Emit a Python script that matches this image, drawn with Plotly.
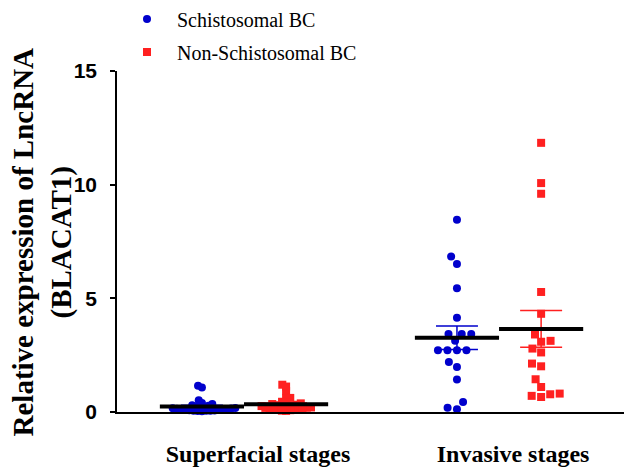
import numpy as np
import plotly.graph_objects as go

categories = ["Superfacial stages", "Invasive stages"]
series_names = ["Schistosomal BC", "Non-Schistosomal BC"]
y_title = "Relative expression of LncRNA<br>(BLACAT1)"

schisto_superficial = [1.15, 1.08, 0.52, 0.40, 0.35, 0.30, 0.28, 0.25, 0.22, 0.20,
                       0.18, 0.17, 0.15, 0.14, 0.13, 0.12, 0.11, 0.10, 0.09, 0.08,
                       0.07, 0.06, 0.05, 0.05, 0.04, 0.03]
schisto_invasive = [8.46, 6.84, 6.51, 5.44, 4.15, 3.43, 3.43, 3.43, 3.13, 2.72,
                    2.72, 2.72, 2.72, 2.20, 1.98, 1.43, 0.44, 0.19, 0.12]
nonschisto_superficial = [1.20, 1.12, 0.92, 0.62, 0.60, 0.45, 0.40, 0.38, 0.35, 0.32,
                          0.30, 0.28, 0.26, 0.25, 0.24, 0.22, 0.20, 0.19, 0.18, 0.16,
                          0.15, 0.14, 0.12, 0.10, 0.09, 0.08, 0.06, 0.05]
nonschisto_invasive = [11.84, 10.07, 9.60, 5.28, 4.32, 3.41, 3.13, 3.09, 2.79, 2.62,
                       2.13, 2.01, 1.44, 1.10, 0.78, 0.66, 0.71, 0.81]

ticks_y = [0, 5, 10, 15]

# layout constants
W, H = 624, 469
ML, MR, MT, MB = 117, 0, 71, 57
XR = [-0.498, 1.49]
YR = [0, 15]
px_x = (W - ML - MR) / (XR[1] - XR[0])
px_y = (H - MT - MB) / (YR[1] - YR[0])

BLUE = "#0000CC"
RED = "#FF2020"
group_off = 0.165
mean_half = 0.165
cap_half_px = 21
swarm_spacing = [4.2, 9.5]  # px spacing per category


def swarm(values, d):
    vals = np.asarray(values, float)
    order = np.argsort(vals)
    placed = []
    offs = np.zeros(len(vals))
    for i in order:
        y = vals[i] * px_y
        cands = [0.0]
        for (px, py) in placed:
            dy = abs(py - y)
            if dy < d:
                dx = np.sqrt(d * d - dy * dy)
                cands += [px + dx, px - dx]
        cands = sorted(cands, key=lambda c: (abs(c), c))
        for c in cands:
            if all((c - px) ** 2 + (y - py) ** 2 >= d * d - 1e-6 for px, py in placed):
                offs[i] = c
                placed.append((c, y))
                break
    return offs / px_x


fig = go.Figure()
data = [
    (series_names[0], BLUE, "circle", [schisto_superficial, schisto_invasive], -group_off),
    (series_names[1], RED, "square", [nonschisto_superficial, nonschisto_invasive], group_off),
]

for name, color, symbol, groups, off in data:
    xs, ys = [], []
    for gi, vals in enumerate(groups):
        sw = swarm(vals, swarm_spacing[gi])
        xs += list(gi + off + sw)
        ys += list(vals)
    fig.add_trace(go.Scatter(
        x=xs, y=ys, mode="markers", name=name, legendgroup=name,
        marker=dict(color=color, symbol=symbol, size=8, line=dict(width=0)),
        cliponaxis=False,
    ))

for name, color, symbol, groups, off in data:
    for gi, vals in enumerate(groups):
        v = np.asarray(vals)
        m = v.mean()
        sem = v.std(ddof=1) / np.sqrt(len(v))
        c = gi + off
        fig.add_trace(go.Scatter(
            x=[c], y=[m], mode="markers", showlegend=False,
            marker=dict(size=0.1, color=color, opacity=0),
            error_y=dict(type="data", array=[sem], color=color, thickness=1.5, width=cap_half_px),
            cliponaxis=False, hoverinfo="skip",
        ))
        fig.add_trace(go.Scatter(
            x=[c - mean_half, c + mean_half], y=[m, m], mode="lines", showlegend=False,
            line=dict(color="black", width=4), cliponaxis=False, hoverinfo="skip",
        ))

fig.add_annotation(
    text=f"<b>{y_title}</b>", textangle=-90, xref="paper", yref="paper",
    x=-0.146, y=0.5, xanchor="center", yanchor="middle", showarrow=False,
    font=dict(family="Liberation Serif", size=29, color="black"),
)

fig.update_layout(
    width=W, height=H,
    margin=dict(l=ML, r=MR, t=MT, b=MB, autoexpand=False),
    paper_bgcolor="white", plot_bgcolor="white",
    showlegend=True,
    legend=dict(
        x=0.0, y=1.21, xanchor="left", yanchor="top", xref="paper", yref="paper",
        font=dict(family="Liberation Serif", size=20, color="black"),
        tracegroupgap=4, itemsizing="trace", itemwidth=50, bgcolor="rgba(0,0,0,0)",
    ),
    xaxis=dict(
        range=XR, tickvals=[0, 1], ticktext=[f"<b>{c}</b>" for c in categories],
        showline=True, linecolor="black", linewidth=2, ticks="", showgrid=False,
        zeroline=False, ticklabelshift=14, ticklabelstandoff=19,
        tickfont=dict(family="Liberation Serif", size=24, color="black"),
    ),
    yaxis=dict(
        range=YR, tickvals=ticks_y, ticktext=[f"<b>{t}</b>" for t in ticks_y],
        showline=True, linecolor="black", linewidth=1.5, ticks="outside", ticklen=5,
        tickwidth=1.5, tickcolor="black", showgrid=False, zeroline=False,
        ticklabelstandoff=9,
        tickfont=dict(family="Liberation Sans", size=21, color="black"),
    ),
)

fig.write_html("out.html")
